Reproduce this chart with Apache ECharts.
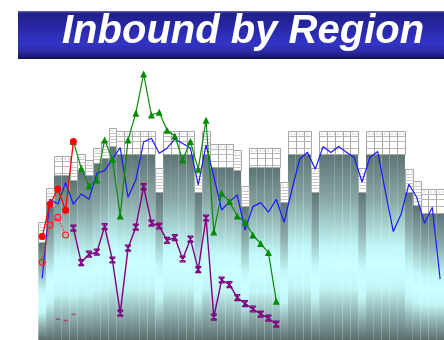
<!DOCTYPE html>
<html>
<head>
<meta charset="utf-8">
<script src="https://cdn.jsdelivr.net/npm/echarts@6/dist/echarts.min.js"></script>
<style>
  html, body { margin: 0; padding: 0; background: #ffffff; }
  #chart { width: 444px; height: 340px; }
</style>
</head>
<body>
<div id="chart"></div>
<script>
// Weekly inbound volume, 52 weeks
const weeks = Array.from({ length: 52 }, (_, i) => 'W' + (i + 1));

// Regional capacity (shaded columns) and its reserve cap (table block on top)
const capacity = [
  49.2, 67, 82.5, 82.5, 80, 84.5, 82.5, 88.4, 91, 97.2,
  93, 93, 93, 93, 93, 74.2, 93, 93, 93, 93,
  74.2, 93, 86.7, 86.7, 86.7, 85, 67.2, 86.4, 86.4, 86.4,
  86.4, 68.8, 93, 93, 93, 74.2, 93, 93, 93, 93,
  93, 74.2, 93, 93, 93, 93, 93, 74.2, 67.5, 63.7,
  63.7, 63.7
];
const reserve = [
  59.2, 76, 92, 92, 89, 92.9, 90, 96.2, 99.5, 106.2,
  104.7, 104.7, 104.7, 104.7, 104.7, 85.9, 104.7, 104.7, 104.7, 104.7,
  85.9, 104.7, 98, 98, 98, 95, 77, 95.9, 95.9, 95.9,
  95.9, 78.8, 104.7, 104.7, 104.7, 85.9, 104.7, 104.7, 104.7, 104.7,
  104.7, 85.9, 104.7, 104.7, 104.7, 104.7, 104.7, 85.5, 79.3, 75.3,
  75.3, 75.3
];

// Inbound by region
const north = [
  30.9, 70.4, 68, 78.7, 67.9, 73, 70.4, 83.4, 84.7, 90.4,
  96.2, 71.4, 80, 99, 100.9, 93.4, 95.9, 100.4, 98.2, 96,
  77.5, 97.5, 81.7, 65, 69.2, 72.5, 55, 66.7, 68.7, 63.9,
  70.4, 58.9, 75, 90.4, 93.9, 85.4, 96.7, 93.7, 96.7, 93.9,
  91.2, 79, 91.2, 94.2, 74, 54.2, 62.9, 77.9, 71.4, 58.4,
  66.4, 30.5
];
const south = [
  null, null, null, null, 99.3, 85.9, 77, 80, 100, 90.4,
  62, 100, 113.4, 133, 112.5, 113.9, 104.9, 102, 90, 99.2,
  85.4, 109.9, 54, 73.4, 69.2, 62, 59, 52.5, 48.2, 43.7,
  19.4
];
const west = [
  null, null, null, null, 55.9, 38.7, 42.9, 43.9, 56.7, 40,
  13.4, 45.9, 56.4, 76.7, 58.4, 57, 49.8, 51.2, 40.5, 50.4,
  35.2, 61, 11.4, 30, 27.7, 21.2, 18.2, 15.5, 12.9, 10.9,
  7.9
];
const east = [51.7, 68, 75.5, 64.9, 99.3];
const eastForecast = [38.9, 57.4, 61.3, 52.5];
const central = [null, null, 10.4, 9.7, 12.8];

const chart = echarts.init(document.getElementById('chart'), null, { renderer: 'canvas' });

// Table-like block drawn between the column top and the reserve level
function renderReserve(params, api) {
  const i = api.value(0);
  const lo = api.coord([i, api.value(1)]);
  const hi = api.coord([i, api.value(2)]);
  const w = api.size([1, 0])[0];
  const x0 = Math.round(lo[0] - w / 2) + 0.5;
  const x1 = Math.round(lo[0] + w / 2) + 0.5;
  const y0 = Math.round(hi[1]) + 0.5;
  const y1 = Math.round(lo[1]) + 0.5;
  const h = y1 - y0;
  const single = reserve[i - 1] !== reserve[i] && reserve[i + 1] !== reserve[i];
  const children = [{
    type: 'rect',
    shape: { x: x0, y: y0, width: x1 - x0, height: h },
    style: { fill: '#ffffff', stroke: '#a6a6a6', lineWidth: 1 }
  }];
  const rows = [];
  if (single) {
    for (let r = 5; r < h - 1; r += 3) rows.push(r);
  } else {
    rows.push(5, 10, 17);
  }
  rows.forEach(r => {
    if (r < h - 1) {
      children.push({
        type: 'line',
        shape: { x1: x0, y1: y0 + r, x2: x1, y2: y0 + r },
        style: { stroke: single ? '#c8c8c8' : '#b8b8b8', lineWidth: 1 }
      });
    }
  });
  children.push({
    type: 'line',
    shape: { x1: x0 + 2, y1: y0 + 2.5, x2: x1 - 1, y2: y0 + 2.5 },
    style: { stroke: '#8c8c8c', lineWidth: 1, lineDash: [1, 3] }
  });
  return { type: 'group', children };
}

const colGradient = new echarts.graphic.LinearGradient(0, 0, 0, 1, [
  { offset: 0, color: '#5c7473' },
  { offset: 0.25, color: '#8aa9a8' },
  { offset: 0.5, color: '#c0f8f8' },
  { offset: 0.6, color: '#ccffff' },
  { offset: 0.72, color: '#c2f6f6' },
  { offset: 0.88, color: '#86a6a5' },
  { offset: 1, color: '#5a6e6d' }
]);

const crossSymbol = 'path://M0,0L10,0M0,10L10,10M0,0L10,10M10,0L0,10M5,0L5,10';

chart.setOption({
  animation: false,
  backgroundColor: '#ffffff',
  title: {
    text: 'Inbound by Region',
    left: 62,
    top: 12,
    padding: 0,
    z: 20,
    textStyle: {
      color: '#ffffff',
      fontSize: 40,
      fontWeight: 'bold',
      fontStyle: 'italic',
      fontFamily: 'Liberation Sans, Arial, sans-serif'
    }
  },
  graphic: [{
    type: 'rect',
    z: 0,
    shape: { x: 18, y: 11, width: 440, height: 48 },
    style: {
      fill: new echarts.graphic.LinearGradient(0, 0, 0, 1, [
        { offset: 0, color: '#6a6aa8' },
        { offset: 0.05, color: '#20208a' },
        { offset: 0.3, color: '#2626a2' },
        { offset: 0.68, color: '#3434c6' },
        { offset: 0.86, color: '#2a2aa2' },
        { offset: 1, color: '#121258' }
      ])
    }
  }],
  grid: { left: 38.3, top: 60, width: 411.8, height: 280, containLabel: false },
  xAxis: {
    type: 'category',
    data: weeks,
    boundaryGap: true,
    show: false
  },
  yAxis: { type: 'value', min: 0, max: 140, show: false },
  series: [
    {
      type: 'bar',
      data: capacity,
      barCategoryGap: '0%',
      barGap: '0%',
      itemStyle: { color: colGradient },
      z: 1
    },
    {
      type: 'custom',
      renderItem: renderReserve,
      data: weeks.map((w, i) => [i, capacity[i], reserve[i]]),
      encode: { x: 0, y: [1, 2] },
      z: 2
    },
    {
      type: 'line',
      data: north,
      symbol: 'none',
      lineStyle: { color: '#1818ff', width: 1.2 },
      z: 5
    },
    {
      type: 'line',
      data: west,
      symbol: crossSymbol,
      symbolSize: 6,
      showAllSymbol: true,
      itemStyle: { color: '#800080', borderColor: '#800080', borderWidth: 1.2 },
      lineStyle: { color: '#800080', width: 1.4 },
      z: 6
    },
    {
      type: 'line',
      data: south,
      symbol: 'triangle',
      symbolSize: 7,
      showAllSymbol: true,
      itemStyle: { color: '#008c00' },
      lineStyle: { color: '#0a8a0a', width: 1.2 },
      z: 7
    },
    {
      type: 'line',
      data: eastForecast,
      symbol: 'circle',
      symbolSize: 6,
      showAllSymbol: true,
      itemStyle: { color: 'rgba(255,255,255,0)', borderColor: '#ff2020', borderWidth: 1.2 },
      lineStyle: { color: '#ff3030', width: 1.3, type: 'dotted' },
      z: 8
    },
    {
      type: 'line',
      data: east,
      symbol: 'circle',
      symbolSize: 7,
      showAllSymbol: true,
      itemStyle: { color: '#ff0000' },
      lineStyle: { color: '#ff0000', width: 1.3 },
      z: 9
    },
    {
      type: 'scatter',
      data: central.map((v, i) => [i, v]).filter(d => d[1] !== null),
      symbol: 'rect',
      symbolSize: [4, 1.6],
      itemStyle: { color: '#b0306c' },
      z: 9
    }
  ]
});
</script>
</body>
</html>
